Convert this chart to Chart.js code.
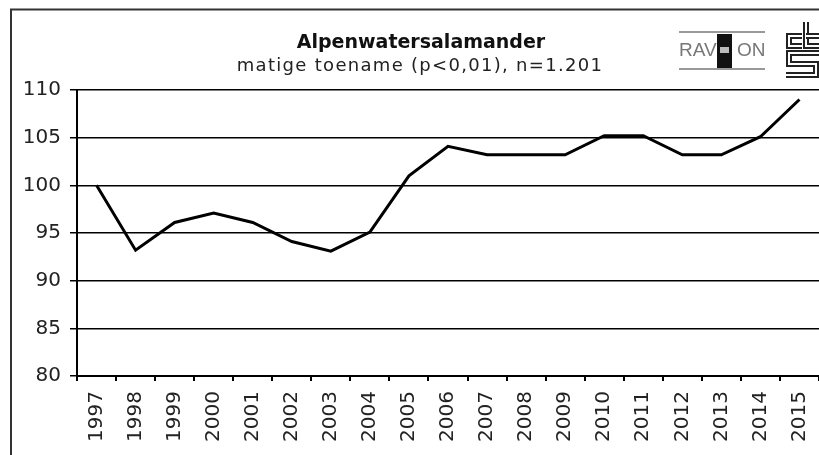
<!DOCTYPE html>
<html>
<head>
<meta charset="utf-8">
<script src="https://cdn.jsdelivr.net/npm/chart.js@4/dist/chart.umd.min.js"></script>
<style>
  html, body { margin: 0; padding: 0; background: #fff; }
  #wrap { width: 819px; height: 455px; }
</style>
</head>
<body>
<div id="wrap"><canvas id="grafico"></canvas></div>
<script>
// data
var jaren = ['1997', '1998', '1999', '2000', '2001', '2002', '2003', '2004', '2005', '2006',
             '2007', '2008', '2009', '2010', '2011', '2012', '2013', '2014', '2015'];
var index = [100, 93.2, 96.1, 97.1, 96.1, 94.1, 93.1, 95.1, 101, 104.1,
             103.2, 103.2, 103.2, 105.2, 105.2, 103.2, 103.2, 105.1, 109];
var yTicks = [80, 85, 90, 95, 100, 105, 110];
var titel = 'Alpenwatersalamander';
var ondertitel = 'matige toename (p<0,01), n=1.201';

// draw a hollow stroke (cbs logo style)
function holleLijn(c, pts) {
    c.beginPath();
    c.moveTo(pts[0][0], pts[0][1]);
    for (var i = 1; i < pts.length; i++) c.lineTo(pts[i][0], pts[i][1]);
    c.strokeStyle = '#222';
    c.lineWidth = 6;
    c.stroke();
    c.strokeStyle = '#fff';
    c.lineWidth = 2;
    c.stroke();
}

// frame, title and logos
var extras = {
    id: 'extras',
    afterDraw: function (chart) {
        var c = chart.ctx;
        c.save();
        // frame
        c.strokeStyle = '#333';
        c.lineWidth = 2;
        c.beginPath();
        c.moveTo(11, 460);
        c.lineTo(11, 9.5);
        c.lineTo(825, 9.5);
        c.stroke();

        // title
        c.fillStyle = '#111';
        c.textAlign = 'center';
        c.textBaseline = 'middle';
        c.font = 'bold 19px "DejaVu Sans"';
        c.fillText(titel, 421, 43);
        c.font = '18px "DejaVu Sans"';
        c.letterSpacing = '1.3px';
        c.fillStyle = '#222';
        c.fillText(ondertitel, 420, 66);
        c.letterSpacing = '0px';

        // RAVON logo
        c.strokeStyle = '#999';
        c.lineWidth = 2;
        c.beginPath();
        c.moveTo(679, 32); c.lineTo(765, 32);
        c.moveTo(679, 69); c.lineTo(765, 69);
        c.stroke();
        c.fillStyle = '#777';
        c.font = '19px "Liberation Sans"';
        c.textAlign = 'left';
        c.fillText('RAV', 679, 51);
        c.fillText('ON', 737, 51);
        c.fillStyle = '#111';
        c.fillRect(717, 34, 15, 34);
        c.fillStyle = '#bbb';
        c.fillRect(720, 47, 9, 6);

        // cbs logo
        c.lineJoin = 'miter';
        holleLijn(c, [[802, 36], [789, 36], [789, 46], [802, 46]]);
        holleLijn(c, [[806, 22], [806, 46], [822, 46]]);
        holleLijn(c, [[806, 36], [822, 36]]);
        holleLijn(c, [[822, 53], [789, 53], [789, 64], [816, 64], [816, 75], [786, 75]]);
        c.restore();
    }
};

var graf = document.getElementById('grafico').getContext('2d');

var grafico = new Chart(graf, {
    type: 'line',
    data: {
        labels: jaren,
        datasets: [{
            label: titel,
            data: index,
            borderColor: '#000',
            borderWidth: 3,
            pointRadius: 0,
            tension: 0,
            fill: false
        }]
    },
    options: {
        responsive: true,
        maintainAspectRatio: false,
        animation: false,
        layout: {
            padding: { left: 0, right: 0, top: 90, bottom: 0 }
        },
        plugins: {
            legend: { display: false },
            tooltip: { enabled: false }
        },
        scales: {
            x: {
                type: 'category',
                offset: true,
                grid: {
                    offset: true,
                    drawOnChartArea: false,
                    drawTicks: true,
                    tickLength: 5,
                    color: '#000',
                    lineWidth: 2
                },
                border: { color: '#000', width: 2 },
                ticks: {
                    color: '#222',
                    font: { family: 'DejaVu Sans', size: 20 },
                    minRotation: 90,
                    maxRotation: 90,
                    autoSkip: false,
                    padding: 10
                },
                afterFit: function (scale) {
                    scale.height = 79;
                    scale.paddingLeft = 0;
                    scale.paddingRight = 0;
                }
            },
            y: {
                min: 80,
                max: 110,
                afterBuildTicks: function (scale) {
                    scale.ticks = yTicks.map(function (v) { return { value: v }; });
                },
                grid: {
                    color: '#000',
                    lineWidth: 1.5,
                    tickLength: 7
                },
                border: { color: '#000', width: 2 },
                ticks: {
                    color: '#222',
                    font: { family: 'DejaVu Sans', size: 20 },
                    padding: 9
                },
                afterFit: function (scale) { scale.width = 77; }
            }
        }
    },
    plugins: [extras]
});
</script>
</body>
</html>
